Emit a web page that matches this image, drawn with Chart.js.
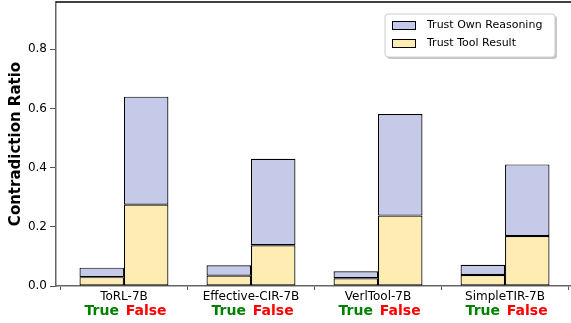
<!DOCTYPE html>
<html>
<head>
<meta charset="utf-8">
<script src="https://cdn.jsdelivr.net/npm/chart.js@4.4.1/dist/chart.umd.min.js"></script>
<style>
  html, body { margin: 0; padding: 0; overflow: hidden; background: #fff; }
  canvas { display: block; }
</style>
</head>
<body>
<canvas id="chart" width="575" height="323"></canvas>
<script>
// Models and the two answer groups shown under each model
const categories = ['ToRL-7B', 'Effective-CIR-7B', 'VerlTool-7B', 'SimpleTIR-7B'];
const answerLabels = ['True', 'False'];

// Contradiction ratio, split by which side the model trusted
const trueToolResult    = [0.030, 0.035, 0.026, 0.037];
const trueOwnReasoning  = [0.032, 0.035, 0.024, 0.035];
const falseToolResult   = [0.275, 0.138, 0.238, 0.169];
const falseOwnReasoning = [0.365, 0.292, 0.343, 0.242];

const yTicks = [0.0, 0.2, 0.4, 0.6, 0.8];

const FONT = '"DejaVu Sans", Verdana, sans-serif';
const OWN_COLOR = '#c5cae9';
const TOOL_COLOR = '#ffecb3';
const EDGE = '#000';

const points = vals => vals.map((v, i) => ({ x: i, y: v }));

function barSet(label, vals, color, stack) {
  return {
    label, stack,
    data: points(vals),
    backgroundColor: color,
    borderColor: EDGE,
    borderWidth: 1.2,
    borderSkipped: false,
    categoryPercentage: 0.7,
    barPercentage: 1.0
  };
}

// True / False captions beneath each bar, the top frame line and the legend
const extras = {
  id: 'extras',
  afterDraw(chart) {
    const { ctx, chartArea } = chart;
    ctx.save();
    // top frame
    ctx.strokeStyle = '#000';
    ctx.lineWidth = 1.5;
    ctx.beginPath();
    ctx.moveTo(chartArea.left, chartArea.top);
    ctx.lineTo(chartArea.right, chartArea.top);
    ctx.stroke();

    // answer captions
    ctx.font = 'bold 14px ' + FONT;
    ctx.textAlign = 'center';
    ctx.textBaseline = 'middle';
    [[0, 'green'], [2, 'red']].forEach(([dsIndex, color], k) => {
      const meta = chart.getDatasetMeta(dsIndex);
      meta.data.forEach(bar => {
        ctx.fillStyle = color;
        ctx.fillText(answerLabels[k], bar.x, chartArea.bottom + 25);
      });
    });

    // legend box
    const items = [
      { text: chart.data.datasets[1].label, color: OWN_COLOR },
      { text: chart.data.datasets[0].label, color: TOOL_COLOR }
    ];
    const bx = chartArea.right - 188, by = chartArea.top + 12, bw = 170, bh = 43;
    ctx.fillStyle = 'rgba(0,0,0,0.22)';
    ctx.beginPath();
    ctx.roundRect(bx + 2, by + 2, bw, bh, 3);
    ctx.fill();
    ctx.fillStyle = '#fff';
    ctx.strokeStyle = '#cccccc';
    ctx.lineWidth = 1;
    ctx.beginPath();
    ctx.roundRect(bx, by, bw, bh, 3);
    ctx.fill();
    ctx.stroke();

    ctx.font = '11px ' + FONT;
    ctx.textAlign = 'left';
    items.forEach((it, i) => {
      const cy = by + 11 + i * 18;
      ctx.fillStyle = it.color;
      ctx.fillRect(bx + 7, cy - 4, 23, 8);
      ctx.strokeStyle = EDGE;
      ctx.strokeRect(bx + 7.5, cy - 3.5, 23, 8);
      ctx.fillStyle = '#000';
      ctx.fillText(it.text, bx + 42, cy + 0.5);
    });
    ctx.restore();
  }
};

new Chart(document.getElementById('chart'), {
  type: 'bar',
  data: {
    datasets: [
      barSet('Trust Tool Result', trueToolResult, TOOL_COLOR, 'True'),
      barSet('Trust Own Reasoning', trueOwnReasoning, OWN_COLOR, 'True'),
      barSet('Trust Tool Result', falseToolResult, TOOL_COLOR, 'False'),
      barSet('Trust Own Reasoning', falseOwnReasoning, OWN_COLOR, 'False')
    ]
  },
  options: {
    responsive: false,
    animation: false,
    layout: { padding: { top: 2, right: 2, left: 0, bottom: 0 } },
    plugins: { legend: { display: false }, tooltip: { enabled: false } },
    scales: {
      x: {
        type: 'linear',
        offset: false,
        min: -0.535,
        max: 3.535,
        afterBuildTicks: s => { s.ticks = categories.map((_, i) => ({ value: i })); },
        afterFit: s => { s.height = 37; s.paddingLeft = 0; s.paddingRight = 0; },
        ticks: {
          callback: v => categories[v],
          color: '#000',
          font: { family: FONT, size: 12 },
          padding: 0,
          maxRotation: 0,
          autoSkip: false
        },
        grid: { drawOnChartArea: false, drawTicks: true, tickLength: 4, color: '#555', lineWidth: 1 },
        border: { color: '#666', width: 1.5 }
      },
      y: {
        stacked: true,
        min: 0,
        max: 0.96,
        afterBuildTicks: s => { s.ticks = yTicks.map(v => ({ value: v })); },
        afterFit: s => { s.width = 56; s.paddingTop = 0; s.paddingBottom = 0; },
        ticks: {
          callback: v => v.toFixed(1),
          color: '#000',
          font: { family: FONT, size: 12 },
          padding: 3
        },
        grid: { drawOnChartArea: false, drawTicks: true, tickLength: 6, color: '#555', lineWidth: 1 },
        border: { color: '#666', width: 1.5 },
        title: {
          display: true,
          text: 'Contradiction Ratio',
          color: '#000',
          font: { family: FONT, size: 15, weight: 'bold' },
          padding: { top: 7, bottom: 0 }
        }
      }
    }
  },
  plugins: [extras]
});
</script>
</body>
</html>
